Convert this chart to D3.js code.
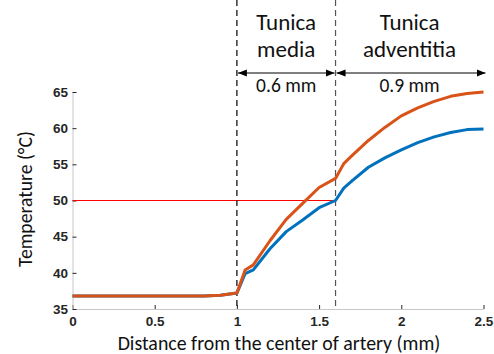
<!DOCTYPE html>
<html><head><meta charset="utf-8">
<script src="https://cdn.jsdelivr.net/npm/d3@7"></script>
<style>body{margin:0;background:#fff}svg{display:block}</style>
</head><body><svg id="c" width="494" height="354"></svg>
<script>
const xTicks = [0, 0.5, 1, 1.5, 2, 2.5];
const xTickLabels = ["0", "0.5", "1", "1.5", "2", "2.5"];
const yTicks = [35, 40, 45, 50, 55, 60, 65];
const distance = [0, 0.8, 0.9, 1.0, 1.05, 1.1, 1.2, 1.3, 1.4, 1.5, 1.6, 1.65, 1.7, 1.8, 1.9, 2.0, 2.1, 2.2, 2.3, 2.4, 2.5];
const tempBlue = [36.8, 36.8, 36.9, 37.2, 39.9, 40.4, 43.3, 45.7, 47.3, 49.0, 50.0, 51.7, 52.7, 54.6, 55.9, 57.0, 58.0, 58.8, 59.4, 59.8, 59.9];
const tempOrange = [36.8, 36.8, 36.9, 37.2, 40.4, 41.1, 44.4, 47.4, 49.6, 51.8, 53.05, 55.1, 56.2, 58.3, 60.1, 61.7, 62.8, 63.7, 64.4, 64.8, 65.0];
const boundaries = [1.0, 1.6];
const threshold = 50;
const layers = [{name: ["Tunica", "media"], from: 1.0, to: 1.6, label: "0.6 mm"},
                {name: ["Tunica", "adventitia"], from: 1.6, to: 2.5, label: "0.9 mm"}];

const svg = d3.select("#c");
const x = d3.scaleLinear().domain([0, 2.5]).range([72.5, 483.5]);
const y = d3.scaleLinear().domain([35, 65]).range([309, 92]);

const defs = svg.append("defs");
defs.append("marker").attr("id", "ah").attr("viewBox", "0 0 10 10").attr("refX", 10).attr("refY", 5)
  .attr("markerWidth", 9).attr("markerHeight", 9).attr("markerUnits", "userSpaceOnUse").attr("orient", "auto-start-reverse")
  .append("path").attr("d", "M0,1 L10,5 L0,9 Z").attr("fill", "#000");

// axes
const xAxis = svg.append("g").attr("transform", "translate(0,309)")
  .call(d3.axisBottom(x).tickValues(xTicks).tickFormat((d, i) => xTickLabels[i]).tickSizeInner(-4).tickSizeOuter(0).tickPadding(7));
const yAxis = svg.append("g").attr("transform", "translate(72.5,0)")
  .call(d3.axisLeft(y).tickValues(yTicks).tickSizeInner(-4).tickSizeOuter(0).tickPadding(8));
[xAxis, yAxis].forEach(g => {
  g.select(".domain").attr("stroke", "#c8c8c8").attr("stroke-width", 1);
  g.selectAll(".tick line").attr("stroke", "#262626");
  g.selectAll(".tick text").attr("fill", "#262626").attr("font-family", "Liberation Sans, Arial, sans-serif")
    .attr("font-size", 13.5).attr("font-weight", "bold");
});
yAxis.selectAll(".tick text").attr("dx", 3.5);

// threshold line
svg.append("line").attr("x1", x(0)).attr("x2", x(1.6)).attr("y1", y(threshold)).attr("y2", y(threshold))
  .attr("stroke", "#ff0000").attr("stroke-width", 1);

// dashed boundaries
svg.selectAll(".bd").data(boundaries).enter().append("line")
  .attr("x1", d => x(d)).attr("x2", d => x(d)).attr("y1", 0).attr("y2", 309)
  .attr("stroke", (d, i) => i === 0 ? "#000" : "#555").attr("stroke-width", 1.2).attr("stroke-dasharray", "6,4");

// curves
const line = d3.line().x((d, i) => x(distance[i])).y(d => y(d));
svg.append("path").datum(tempBlue).attr("d", line).attr("fill", "none").attr("stroke", "#0072BD").attr("stroke-width", 3).attr("stroke-linejoin", "round");
svg.append("path").datum(tempOrange).attr("d", line).attr("fill", "none").attr("stroke", "#D95319").attr("stroke-width", 3).attr("stroke-linejoin", "round");

// layer annotations
const ff = "Carlito, Liberation Sans, Arial, sans-serif";
layers.forEach(L => {
  const cx = (x(L.from) + x(L.to)) / 2;
  svg.append("text").attr("x", cx).attr("y", 30).attr("text-anchor", "middle").attr("font-family", ff).attr("font-size", 23).attr("fill", "#111").text(L.name[0]);
  svg.append("text").attr("x", cx).attr("y", 57).attr("text-anchor", "middle").attr("font-family", ff).attr("font-size", 23).attr("fill", "#111").text(L.name[1]);
  svg.append("line").attr("x1", x(L.from) + 1).attr("x2", L.to === 2.5 ? x(L.to) + 2 : x(L.to) - 1).attr("y1", 73).attr("y2", 73)
    .attr("stroke", "#000").attr("stroke-width", 1.2).attr("marker-start", "url(#ah)").attr("marker-end", "url(#ah)");
  svg.append("text").attr("x", cx).attr("y", 92).attr("text-anchor", "middle").attr("font-family", ff).attr("font-size", 19.5).attr("fill", "#111").text(L.label);
});

// axis labels, sized to the reference's text extent
function fit(sel, target) {
  const len = sel.node().getComputedTextLength();
  sel.attr("font-size", 18 * target / len);
}
const xl = svg.append("text").attr("x", 279).attr("y", 350).attr("text-anchor", "middle").attr("font-family", ff)
  .attr("font-size", 18).attr("fill", "#111").text("Distance from the center of artery (mm)");
fit(xl, 323);
const yl = svg.append("text").attr("transform", "translate(32,199) rotate(-90)").attr("text-anchor", "middle").attr("font-family", ff)
  .attr("font-size", 18).attr("fill", "#111").text("Temperature (°C)");
fit(yl, 136);
</script></body></html>
